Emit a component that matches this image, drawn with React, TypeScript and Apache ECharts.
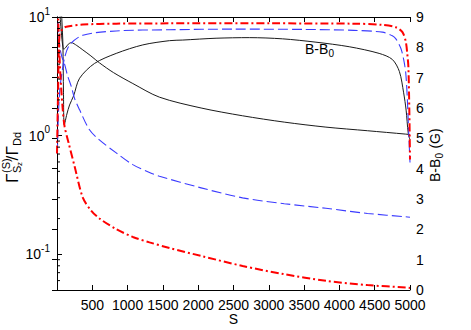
import React, { useEffect, useRef } from 'react';
import * as echarts from 'echarts';

// ---- data ----
const xTickValues = [0, 500, 1000, 1500, 2000, 2500, 3000, 3500, 4000, 4500, 5000];
const logMajorTicks = [0.1, 1, 10];
const logMinorTicks = [0.06, 0.07, 0.08, 0.09, 0.2, 0.3, 0.4, 0.5, 0.6, 0.7, 0.8, 0.9, 2, 3, 4, 5, 6, 7, 8, 9];

// Gamma ratio curves (left, log axis)
const gammaBlackS = [30, 50, 70, 84, 95, 120, 160, 202, 280, 366, 480, 603, 800, 1074, 1451, 2041, 2629, 3219, 3809, 4397, 4940, 5000];
const gammaBlack = [14, 9, 6.5, 5.6, 5.35, 5.5, 5.9, 6.08, 5.75, 5.28, 4.7, 4.1, 3.4, 2.75, 2.11, 1.71, 1.47, 1.3, 1.18, 1.1, 1.03, 1.02];

const gammaBlueS = [15, 40, 70, 107, 150, 202, 250, 320, 460, 600, 839, 1074, 1310, 1451, 2041, 2629, 3219, 3809, 4397, 4940, 5000];
const gammaBlue = [9, 5.6, 4.6, 4.0, 3.2, 2.6, 2.05, 1.65, 1.12, 0.92, 0.716, 0.57, 0.49, 0.455, 0.363, 0.299, 0.267, 0.244, 0.221, 0.207, 0.205];

const gammaRedS = [10, 25, 40, 60, 80, 107, 164, 249, 366, 480, 603, 839, 1074, 1310, 1593, 2041, 2629, 3219, 3809, 4397, 4940, 5000];
const gammaRed = [12, 7, 4, 2.5, 1.7, 1.2, 0.87, 0.552, 0.3, 0.235, 0.2, 0.163, 0.14, 0.126, 0.113, 0.0968, 0.0797, 0.0679, 0.0597, 0.055, 0.0525, 0.052];

// B-B0 curves (right axis, G)
const fieldBlackS = [40, 60, 75, 84, 92, 103, 140, 178, 235, 320, 532, 839, 1215, 1593, 1781, 2253, 2724, 3195, 3668, 4139, 4563, 4750, 4850, 4910, 4945, 4975, 5000];
const fieldBlack = [10, 9.3, 8.6, 8.08, 6.5, 5.44, 5.8, 6.1, 6.4, 6.98, 7.47, 7.8, 8.08, 8.22, 8.24, 8.3, 8.32, 8.28, 8.17, 8.02, 7.8, 7.6, 7.2, 6.5, 5.93, 5.17, 4.95];

const fieldBlueS = [5, 20, 40, 60, 107, 178, 366, 839, 1593, 2500, 3500, 4200, 4609, 4750, 4800, 4870, 4910, 4940, 4963, 4985, 5000];
const fieldBlue = [4.5, 5.8, 6.6, 7.0, 7.65, 8.08, 8.4, 8.54, 8.58, 8.6, 8.59, 8.56, 8.5, 8.38, 8.28, 7.97, 7.6, 7.15, 6.26, 5.0, 4.2];

const fieldRedS = [0, 15, 37, 80, 131, 366, 839, 1593, 3000, 4200, 4609, 4799, 4893, 4940, 4963, 4977, 4990, 5000];
const fieldRed = [4.5, 6.5, 8.45, 8.6, 8.68, 8.75, 8.78, 8.79, 8.79, 8.78, 8.74, 8.66, 8.5, 8.19, 7.75, 7.36, 6.0, 4.3];

const FONT = '"Liberation Sans", Arial, Helvetica, sans-serif';

const zip = (xs: number[], ys: number[]) => xs.map((x, i) => [x, ys[i]]);

let measureCtx: CanvasRenderingContext2D | null = null;
const measure = (text: string, size: number) => {
  if (!measureCtx) measureCtx = document.createElement('canvas').getContext('2d');
  if (!measureCtx) return text.length * size * 0.556;
  measureCtx.font = `${size}px ${FONT}`;
  return measureCtx.measureText(text).width;
};

export default function App() {
  const ref = useRef<HTMLDivElement>(null);
  useEffect(() => {
    document.body.style.margin = '0';
    const chart = echarts.init(ref.current!, undefined, { renderer: 'svg' });

    const red = '#ff0000';
    const blue = '#3b3bff';
    const black = '#1a1a1a';
    const redStyle = { color: red, width: 2, type: [8, 3, 2, 3] as any };
    const blueStyle = { color: blue, width: 1.1, type: [10, 4] as any };
    const blackStyle = { color: black, width: 1, type: 'solid' as any };

    const lineSeries = (name: string, data: number[][], yAxisIndex: number, style: any) => ({
      name,
      type: 'line',
      xAxisIndex: 0,
      yAxisIndex,
      data,
      showSymbol: false,
      symbol: 'none',
      smooth: 0.3,
      clip: true,
      lineStyle: style,
      itemStyle: { color: style.color },
      z: 3,
    });

    const txt = (text: string, x: number, y: number, fontSize: number) => ({
      type: 'text',
      x,
      y,
      style: { text, fontSize, fontFamily: FONT, fill: '#000', align: 'left', verticalAlign: 'middle' },
    });

    const option: any = {
      animation: false,
      backgroundColor: '#fff',
      grid: { left: 57, right: 61, top: 17, bottom: 40, containLabel: false, outerBoundsMode: 'none' },
      xAxis: [
        {
          type: 'value',
          min: xTickValues[0],
          max: xTickValues[xTickValues.length - 1],
          interval: 500,
          position: 'bottom',
          name: 'S',
          nameLocation: 'middle',
          nameGap: 29,
          nameMoveOverlap: false,
          nameTextStyle: { fontSize: 14, fontFamily: FONT, color: '#000', verticalAlign: 'middle', lineHeight: 12 },
          axisLine: { show: true, lineStyle: { color: '#000', width: 1 } },
          axisTick: { show: true, inside: true, length: 5, lineStyle: { color: '#000' } },
          axisLabel: {
            fontSize: 14, fontFamily: FONT, color: '#000', margin: 8, lineHeight: 14,
            formatter: (v: number) => (v === 0 ? '' : String(v)),
          },
          splitLine: { show: false },
        },
        {
          type: 'value',
          min: xTickValues[0],
          max: xTickValues[xTickValues.length - 1],
          interval: 500,
          position: 'top',
          axisLine: { show: true, lineStyle: { color: '#000', width: 1 } },
          axisTick: { show: true, inside: true, length: 5, lineStyle: { color: '#000' } },
          axisLabel: { show: false },
          splitLine: { show: false },
        },
      ],
      yAxis: [
        {
          type: 'log',
          logBase: 10,
          min: 0.05,
          max: 10,
          position: 'left',
          axisLine: { show: true, lineStyle: { color: '#000', width: 1 } },
          axisTick: { show: true, inside: true, length: 5, lineStyle: { color: '#000' } },
          axisLabel: { show: false },
          splitLine: { show: false },
        },
        {
          type: 'value',
          min: 0,
          max: 9,
          interval: 1,
          position: 'right',
          axisLine: { show: true, lineStyle: { color: '#000', width: 1 } },
          axisTick: { show: true, inside: true, length: 5, lineStyle: { color: '#000' } },
          axisLabel: { fontSize: 14, fontFamily: FONT, color: '#000', margin: 6 },
          splitLine: { show: false },
        },
      ],
      series: [
        lineSeries('Gamma black', zip(gammaBlackS, gammaBlack), 0, blackStyle),
        lineSeries('B-B0 black', zip(fieldBlackS, fieldBlack), 1, blackStyle),
        lineSeries('Gamma blue', zip(gammaBlueS, gammaBlue), 0, blueStyle),
        lineSeries('B-B0 blue', zip(fieldBlueS, fieldBlue), 1, blueStyle),
        lineSeries('Gamma red', zip(gammaRedS, gammaRed), 0, redStyle),
        lineSeries('B-B0 red', zip(fieldRedS, fieldRed), 1, redStyle),
        {
          // minor ticks of the log axis
          type: 'custom',
          xAxisIndex: 0,
          yAxisIndex: 0,
          silent: true,
          clip: false,
          z: 5,
          data: logMinorTicks.map((v) => [xTickValues[0], v]),
          renderItem: (_params: any, api: any) => {
            const p = api.coord([api.value(0), api.value(1)]);
            return {
              type: 'line',
              shape: { x1: p[0], y1: p[1], x2: p[0] + 3, y2: p[1] },
              style: { stroke: '#000', lineWidth: 1 },
            };
          },
        },
        {
          // 10^n labels of the log axis
          type: 'custom',
          xAxisIndex: 0,
          yAxisIndex: 0,
          silent: true,
          clip: false,
          z: 5,
          data: logMajorTicks.map((v) => [xTickValues[0], v]),
          renderItem: (_params: any, api: any) => {
            const v = api.value(1);
            const p = api.coord([api.value(0), v]);
            const exp = String(Math.round(Math.log10(v)));
            const supW = measure(exp, 10);
            const right = p[0] - 7;
            return {
              type: 'group',
              children: [
                {
                  type: 'text',
                  x: right - supW,
                  y: p[1],
                  style: { text: '10', fontSize: 14, fontFamily: FONT, fill: '#000', align: 'right', verticalAlign: 'middle' },
                },
                {
                  type: 'text',
                  x: right,
                  y: p[1] - 6,
                  style: { text: exp, fontSize: 10, fontFamily: FONT, fill: '#000', align: 'right', verticalAlign: 'middle' },
                },
              ],
            };
          },
        },
      ],
      graphic: [
        // left axis title: Γ^(S)_{S_z} / Γ_Dd, rotated
        {
          type: 'group',
          x: 12,
          y: 183,
          rotation: Math.PI / 2,
          children: [
            txt('Γ', 0, 0, 17),
            txt('(S)', 10, -6.5, 11),
            txt('S', 10, 4.5, 11),
            txt('z', 17, 7.5, 8),
            txt('/', 22.5, 0, 17),
            txt('Γ', 27.5, 0, 17),
            txt('Dd', 37, 4.5, 11),
          ],
        },
        // right axis title: B-B_0 (G), rotated
        {
          type: 'group',
          x: 435,
          y: 182,
          rotation: Math.PI / 2,
          children: [
            txt('B-B', 0, 0, 14),
            txt('0', 23.5, 4, 10),
            txt(' (G)', 29.5, 0, 14),
          ],
        },
        // in-plot annotation
        txt('B-B', 305, 49, 14),
        txt('0', 328.5, 53, 10),
      ],
    };

    chart.setOption(option);
    return () => chart.dispose();
  }, []);
  return <div ref={ref} style={{ width: 471, height: 330 }} />;
}
